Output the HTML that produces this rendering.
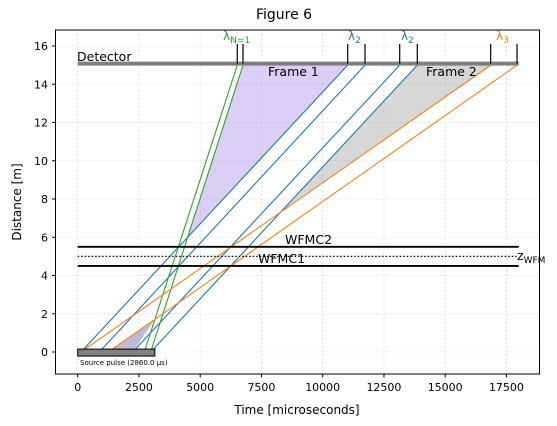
<!DOCTYPE html>
<html><head><meta charset="utf-8"><style>
body{margin:0;background:#fff}
svg{display:block;font-family:"DejaVu Sans","Liberation Sans",sans-serif}
</style></head><body>
<svg id="chart" width="557" height="426" viewBox="0 0 557 426">
<text x="284" y="19" font-size="14" text-anchor="middle">Figure 6</text>
<g id="grid"></g>
<g id="fills"></g>
<g id="lines"></g>
<g id="deco"></g>
<rect x="55.5" y="30" width="484" height="344" fill="none" stroke="#000" stroke-width="1"/>
<g id="axes"></g>
<text x="297" y="414" font-size="12" text-anchor="middle">Time [microseconds]</text>
<text transform="translate(21,202) rotate(-90)" font-size="12" text-anchor="middle">Distance [m]</text>
</svg>
<script>
const xTicks=[0,2500,5000,7500,10000,12500,15000,17500];
const yTicks=[0,2,4,6,8,10,12,14,16];
const blueStarts=[135,882,2245,2980];
const blueEnds=[11020,11727,13143,13861];
const greenStarts=[2718,2980];
const greenEnds=[6514,6747];
const orangeStarts=[135,1249];
const orangeEnds=[16857,17931];
const detectorTicks=[6514,6747,11020,11727,13143,13861,16857,17931];
const chopperDist=[4.5,5.5];
const wfmDist=5.0;
const detectorDist=15;
const tMax=18000;
const pulseEnd=3150;

const X=v=>77.7+v*0.0245;
const Y=v=>352-v*19.125;
const NS='http://www.w3.org/2000/svg';
function mk(parent,tag,attrs){const e=document.createElementNS(NS,tag);for(const k in attrs)e.setAttribute(k,attrs[k]);document.getElementById(parent).appendChild(e);return e;}
xTicks.forEach(t=>{
 const g=mk('grid','line',{x1:X(t),x2:X(t),y1:30,y2:374,stroke:'#ddd','stroke-dasharray':'2,2','stroke-width':0.8});
 
 
 const tk=mk('axes','line',{x1:X(t),x2:X(t),y1:374,y2:377.5,stroke:'#000'});
 
 
 const l=mk('axes','text',{x:X(t),y:391,'font-size':11,'text-anchor':'middle'});l.textContent=t;
 
 
});
yTicks.forEach(t=>{
 const g=mk('grid','line',{x1:55.5,x2:539.5,y1:Y(t),y2:Y(t),stroke:'#ddd','stroke-dasharray':'2,2','stroke-width':0.8});
 
 
 const tk=mk('axes','line',{x1:52,x2:55.5,y1:Y(t),y2:Y(t),stroke:'#000'});
 
 
 const l=mk('axes','text',{x:48,y:Y(t)+4,'font-size':11,'text-anchor':'end'});l.textContent=t;
 
 
});
function xAt(s,e,y){return s+(e-s)*y/detectorDist;}
function inter(s1,e1,s2,e2){const y=detectorDist*(s2-s1)/((e1-s1)-(e2-s2));return [xAt(s1,e1,y),y];}
function poly(pts,fill,name){const p=mk('fills','polygon',{points:pts.map(p=>X(p[0])+','+Y(p[1])).join(' '),fill:fill});
 
 }
// frame 1 (purple)
const a1=inter(greenStarts[1],greenEnds[1],blueStarts[0],blueEnds[0]);
poly([a1,[greenEnds[1],detectorDist],[blueEnds[0],detectorDist]],'rgba(160,130,230,0.38)','frame-1-fill');
const a0=inter(orangeStarts[1],orangeEnds[1],greenStarts[0],greenEnds[0]);
poly([[orangeStarts[1],0],[blueStarts[2],0],a0],'rgba(120,100,170,0.45)','frame-1-source-fill');
// frame 2 (gray)
const a2=inter(blueStarts[3],blueEnds[3],orangeStarts[0],orangeEnds[0]);
poly([a2,[blueEnds[3],detectorDist],[orangeEnds[0],detectorDist]],'rgba(150,150,150,0.38)','frame-2-fill');
function ray(s,e,c,name){const l=mk('lines','line',{x1:X(s),y1:Y(0),x2:X(e),y2:Y(detectorDist),stroke:c,'stroke-width':1.1});
 
 }
blueStarts.forEach((s,i)=>ray(s,blueEnds[i],'#1f77b4','blue-ray'));
greenStarts.forEach((s,i)=>ray(s,greenEnds[i],'#2ca02c','green-ray'));
orangeStarts.forEach((s,i)=>ray(s,orangeEnds[i],'#ff7f0e','orange-ray'));
// choppers
chopperDist.forEach((d,i)=>{const l=mk('deco','line',{x1:X(0),x2:X(tMax),y1:Y(d),y2:Y(d),stroke:'#000','stroke-width':1.8});
 
 });
const w=mk('deco','line',{x1:X(0),x2:X(tMax),y1:Y(wfmDist),y2:Y(wfmDist),stroke:'#000','stroke-width':1.2,'stroke-dasharray':'1.5,2'});


function txt(x,y,s,size,fill,name,anchor){const t=mk('deco','text',{x:x,y:y,'font-size':size,fill:fill||'#000','text-anchor':anchor||'start'});t.innerHTML=s;
 
 return t;}
txt(285,244,'WFMC2',12.5,'#000','wfmc2-label');
txt(258,263,'WFMC1',12.5,'#000','wfmc1-label');
txt(517,260,'z<tspan font-size="9" dy="3">WFM</tspan>',12.5,'#000','zwfm-label');
// detector
const d=mk('deco','line',{x1:X(0),x2:X(tMax),y1:Y(detectorDist)-1.5,y2:Y(detectorDist)-1.5,stroke:'#808080','stroke-width':4});


detectorTicks.forEach(t=>{const l=mk('deco','line',{x1:X(t),x2:X(t),y1:Y(detectorDist)-1.5,y2:44,stroke:'#000','stroke-width':1.2});
 
 });
txt(77,61,'Detector',12.5,'#000','detector-label');
txt(268,76,'Frame 1',12.5,'#000','frame-1-label');
txt(426,76,'Frame 2',12.5,'#000','frame-2-label');
txt(223,40,'λ<tspan font-size="9" dy="3">N=1</tspan>',12,'#2ca02c','lambda-n1-label');
txt(348,40,'λ<tspan font-size="9" dy="3">2</tspan>',12,'#1f77b4','lambda2-label-a');
txt(401,40,'λ<tspan font-size="9" dy="3">2</tspan>',12,'#1f77b4','lambda2-label-b');
txt(496,40,'λ<tspan font-size="9" dy="3">3</tspan>',12,'#ff7f0e','lambda3-label');
// source pulse
const p=mk('deco','rect',{x:X(0),y:Y(0.1)-1,width:X(pulseEnd)-X(0),height:7,fill:'#808080',stroke:'#000','stroke-width':1});


txt(80,365,'Source pulse (2860.0 µs)',7,'#000','source-pulse-label');
</script>
</body></html>
